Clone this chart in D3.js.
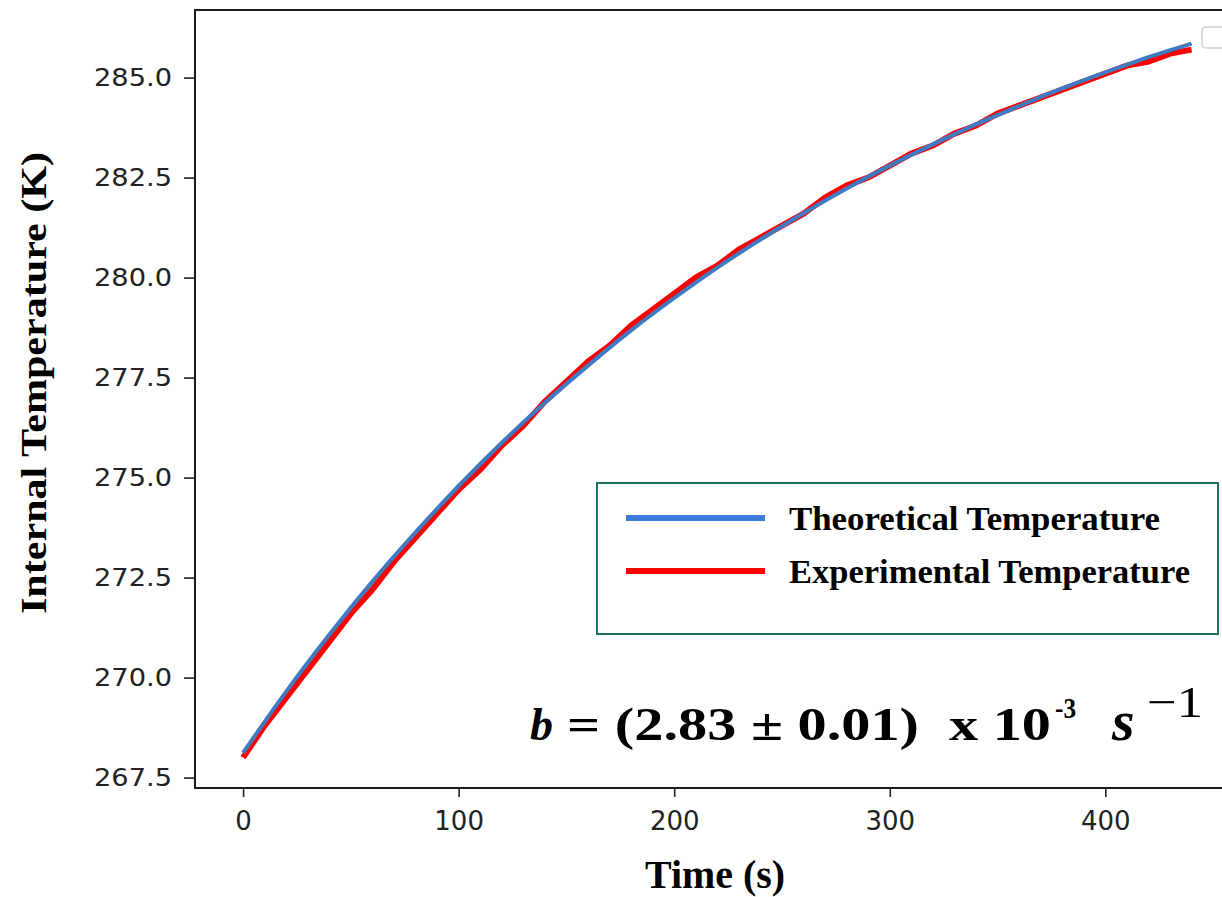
<!DOCTYPE html>
<html>
<head>
<meta charset="utf-8">
<script src="https://cdn.jsdelivr.net/npm/d3@7"></script>
<style>
  html, body { margin: 0; padding: 0; background: #fff; }
  svg { display: block; }
</style>
</head>
<body>
<svg id="chart" width="1222" height="897"></svg>
<script>
// ---- data ----
const theoTime = [0,20,40,60,80,100,120,140,160,180,200,220,240,260,280,300,320,340,360,380,400,420,440];
const theoTemp = [268.12,269.65,271.07,272.40,273.63,274.79,275.87,276.87,277.80,278.68,279.49,280.25,
                  280.95,281.61,282.23,282.80,283.33,283.83,284.29,284.73,285.13,285.51,285.85];

const expTime = [0,10,20,30,40,50,60,70,80,90,100,110,120,130,140,150,160,170,180,190,200,210,220,
                 230,240,250,260,270,280,290,300,310,320,330,340,350,360,370,380,390,400,410,420,430,440];
const expTemp = [268.0,268.8,269.5,270.2,270.9,271.6,272.2,272.9,273.5,274.1,274.7,275.2,275.8,276.3,
                 276.9,277.4,277.9,278.3,278.8,279.2,279.6,280.0,280.3,280.7,281.0,281.3,281.6,282.0,
                 282.3,282.5,282.8,283.1,283.3,283.6,283.8,284.1,284.3,284.5,284.7,284.9,285.1,285.3,
                 285.4,285.6,285.7];

const xTicks = [0, 100, 200, 300, 400];
const yTicks = [267.5, 270.0, 272.5, 275.0, 277.5, 280.0, 282.5, 285.0];
const xLim = [-22.3, 462];
const yLim = [267.24, 286.69];
const seriesNames = ["Theoretical Temperature", "Experimental Temperature"];

// ---- layout ----
const svg = d3.select("#chart");
const plot = {left: 195, right: 1239, top: 10, bottom: 788};

const x = d3.scaleLinear().domain(xLim).range([plot.left, plot.right]);
const y = d3.scaleLinear().domain(yLim).range([plot.bottom, plot.top]);

const blueCurve = "#3f7bc2";
const blueLegend = "#3c7bd9";
const red = "#ff0000";

// axes
const yAxis = d3.axisLeft(y).tickValues(yTicks).tickSize(11).tickPadding(12)
  .tickFormat(d3.format(".1f"));
const gy = svg.append("g").attr("transform", `translate(${plot.left},0)`).call(yAxis);
gy.select(".domain").remove();
gy.selectAll(".tick line").attr("stroke", "#222").attr("stroke-width", 1.6);
gy.selectAll(".tick text")
  .attr("font-family", "DejaVu Sans")
  .attr("font-size", 25)
  .attr("fill", "#222")
  .attr("textLength", 78)
  .attr("lengthAdjust", "spacingAndGlyphs");

const xAxis = d3.axisBottom(x).tickValues(xTicks).tickSize(9).tickPadding(15)
  .tickFormat(d3.format("d"));
const gx = svg.append("g").attr("transform", `translate(0,${plot.bottom})`).call(xAxis);
gx.select(".domain").remove();
gx.selectAll(".tick line").attr("stroke", "#222").attr("stroke-width", 1.6);
gx.selectAll(".tick text")
  .attr("font-family", "DejaVu Sans")
  .attr("font-size", 26)
  .attr("fill", "#222");

// frame (spines)
svg.append("rect")
  .attr("x", plot.left).attr("y", plot.top)
  .attr("width", plot.right - plot.left).attr("height", plot.bottom - plot.top)
  .attr("fill", "none").attr("stroke", "#1a1a1a").attr("stroke-width", 2);

// lines
const expData = expTime.map((t, i) => ({t, v: expTemp[i]}));
const theoData = theoTime.map((t, i) => ({t, v: theoTemp[i]}));
const lineGen = d3.line().x(d => x(d.t)).y(d => y(d.v));

svg.append("path").datum(expData)
  .attr("d", lineGen.curve(d3.curveLinear))
  .attr("fill", "none").attr("stroke", red).attr("stroke-width", 6)
  .attr("stroke-linejoin", "miter");

svg.append("path").datum(theoData)
  .attr("d", d3.line().x(d => x(d.t)).y(d => y(d.v)).curve(d3.curveMonotoneX))
  .attr("fill", "none").attr("stroke", blueCurve).attr("stroke-width", 4);

// small empty matplotlib legend box (top-right, partially cut)
svg.append("rect")
  .attr("x", 1202).attr("y", 27).attr("width", 40).attr("height", 21).attr("rx", 4)
  .attr("fill", "#fff").attr("stroke", "#d0d0d0").attr("stroke-width", 1.5);

// legend box
const lg = svg.append("g");
lg.append("rect")
  .attr("x", 597).attr("y", 483).attr("width", 621).attr("height", 151)
  .attr("fill", "#fff").attr("stroke", "#1f6f62").attr("stroke-width", 2);
const legendColors = [blueLegend, red];
const legendY = [518, 571];
seriesNames.forEach((name, i) => {
  lg.append("line")
    .attr("x1", 626).attr("x2", 765).attr("y1", legendY[i]).attr("y2", legendY[i])
    .attr("stroke", legendColors[i]).attr("stroke-width", 6);
  lg.append("text")
    .attr("x", 789).attr("y", legendY[i] + 12)
    .attr("font-family", "Liberation Serif").attr("font-weight", "bold")
    .attr("font-size", 34)
    .attr("textLength", i === 0 ? 371 : 401).attr("lengthAdjust", "spacingAndGlyphs")
    .attr("fill", "#000").text(name);
});

// axis titles
svg.append("text")
  .attr("transform", "translate(46,383) rotate(-90)")
  .attr("text-anchor", "middle")
  .attr("font-family", "Liberation Serif").attr("font-weight", "bold")
  .attr("font-size", 36)
  .attr("textLength", 462).attr("lengthAdjust", "spacingAndGlyphs")
  .attr("fill", "#000").text("Internal Temperature (K)");

svg.append("text")
  .attr("x", 715).attr("y", 888)
  .attr("text-anchor", "middle")
  .attr("font-family", "Liberation Serif").attr("font-weight", "bold")
  .attr("font-size", 40)
  .attr("textLength", 140).attr("lengthAdjust", "spacingAndGlyphs")
  .attr("fill", "#000").text("Time (s)");

// annotation
const ann = svg.append("g").attr("fill", "#000");
ann.append("text").attr("x", 530).attr("y", 740)
  .attr("font-family", "Liberation Serif").attr("font-weight", "bold").attr("font-style", "italic")
  .attr("font-size", 46).text("b");
ann.append("text").attr("x", 567).attr("y", 740)
  .attr("font-family", "Liberation Serif").attr("font-weight", "bold")
  .attr("font-size", 46)
  .attr("textLength", 352).attr("lengthAdjust", "spacingAndGlyphs")
  .text("= (2.83 ± 0.01)");
ann.append("text").attr("x", 949).attr("y", 740)
  .attr("font-family", "Liberation Serif").attr("font-weight", "bold")
  .attr("font-size", 46)
  .attr("textLength", 102).attr("lengthAdjust", "spacingAndGlyphs")
  .text("x 10");
ann.append("text").attr("x", 1055).attr("y", 718)
  .attr("font-family", "Liberation Serif").attr("font-weight", "bold")
  .attr("font-size", 29)
  .attr("textLength", 21).attr("lengthAdjust", "spacingAndGlyphs")
  .text("-3");
ann.append("text").attr("x", 1112).attr("y", 740)
  .attr("font-family", "Liberation Serif").attr("font-style", "italic").attr("font-weight", "bold")
  .attr("font-size", 58).text("s");
ann.append("text").attr("x", 1147).attr("y", 717)
  .attr("font-family", "Liberation Serif")
  .attr("font-size", 44)
  .attr("textLength", 56).attr("lengthAdjust", "spacingAndGlyphs")
  .text("−1");
</script>
</body>
</html>
